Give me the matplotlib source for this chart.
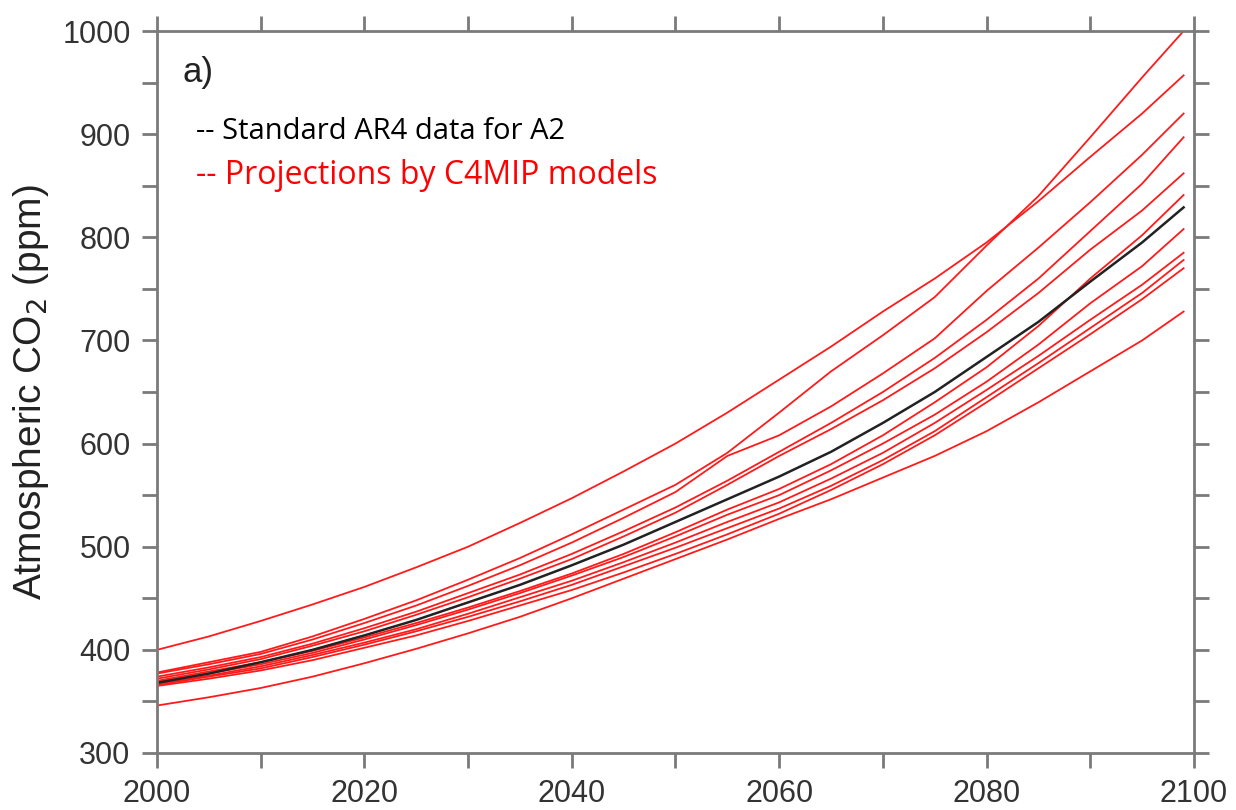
import matplotlib.pyplot as plt
from matplotlib.ticker import MultipleLocator

years = [2000, 2005, 2010, 2015, 2020, 2025, 2030, 2035, 2040, 2045, 2050,
         2055, 2060, 2065, 2070, 2075, 2080, 2085, 2090, 2095, 2099]

# standard AR4 SRES A2 concentrations
ar4_a2 = [368, 377, 388, 400, 414, 429, 446, 463, 482, 502, 524,
          546, 568, 592, 620, 650, 684, 718, 757, 795, 829]

# C4MIP coupled carbon cycle model projections
c4mip_1 = [400, 413, 428, 444, 461, 480, 500, 523, 547, 573, 600,
           630, 662, 694, 728, 760, 795, 835, 878, 920, 957]
c4mip_2 = [378, 388, 398, 413, 430, 448, 468, 489, 512, 536, 560,
           591, 630, 670, 705, 742, 792, 840, 897, 955, 1000]
c4mip_3 = [377, 386, 396, 410, 426, 443, 462, 482, 504, 528, 553,
           588, 608, 636, 668, 702, 748, 790, 834, 880, 920]
c4mip_4 = [374, 383, 393, 406, 421, 437, 455, 473, 493, 515, 538,
           564, 592, 620, 650, 683, 720, 760, 806, 852, 897]
c4mip_5 = [372, 381, 391, 404, 418, 434, 451, 469, 488, 510, 533,
           560, 588, 614, 642, 673, 708, 746, 788, 826, 862]
c4mip_6 = [370, 379, 388, 399, 412, 426, 441, 457, 474, 493, 514,
           536, 556, 580, 608, 640, 674, 714, 760, 802, 841]
c4mip_7 = [369, 377, 386, 397, 410, 424, 439, 455, 472, 490, 510,
           531, 550, 574, 600, 628, 660, 696, 736, 772, 808]
c4mip_8 = [367, 375, 384, 395, 407, 420, 435, 451, 467, 485, 504,
           524, 543, 566, 591, 620, 652, 685, 720, 754, 785]
c4mip_9 = [366, 374, 382, 393, 405, 418, 432, 447, 463, 481, 499,
           518, 537, 559, 584, 612, 645, 678, 712, 746, 778]
c4mip_10 = [365, 372, 380, 390, 402, 414, 428, 443, 458, 475, 493,
            512, 532, 555, 580, 608, 640, 673, 706, 740, 770]
c4mip_11 = [346, 354, 363, 374, 387, 401, 416, 432, 450, 469, 488,
            507, 527, 546, 567, 588, 612, 640, 670, 700, 728]

models = [c4mip_1, c4mip_2, c4mip_3, c4mip_4, c4mip_5, c4mip_6,
          c4mip_7, c4mip_8, c4mip_9, c4mip_10, c4mip_11]

plt.rcParams["font.family"] = ["Liberation Sans", "DejaVu Sans"]

fig = plt.figure(figsize=(12.36, 8.10), dpi=100)
ax = fig.add_axes([0.127, 0.0704, 0.839, 0.8913])

for m in models:
    ax.plot(years, m, color="#ff1a1a", lw=1.3)
ax.plot(years, ar4_a2, color="#222222", lw=1.8)

ax.set_xlim(2000, 2100)
ax.set_ylim(300, 1000)
ax.xaxis.set_major_locator(MultipleLocator(20))
ax.xaxis.set_minor_locator(MultipleLocator(10))
ax.yaxis.set_major_locator(MultipleLocator(100))
ax.yaxis.set_minor_locator(MultipleLocator(50))

grey = "#7a7a7a"
for s in ax.spines.values():
    s.set_color(grey)
    s.set_linewidth(2)
ax.tick_params(which="both", direction="out", length=11, width=2, color=grey,
               top=True, right=True, labelsize=22, labelcolor="#333333", pad=8)

ax.set_ylabel("Atmospheric CO$_2$ (ppm)", fontsize=28, color="#222222", labelpad=8)

ax.text(0.025, 0.943, "a)", transform=ax.transAxes, fontsize=25,
        color="#222222", va="center")
ax.text(0.038, 0.861, "-- Standard AR4 data for A2", transform=ax.transAxes,
        fontsize=21, family="Open Sans", color="black", va="center")
ax.text(0.038, 0.800, "-- Projections by C4MIP models", transform=ax.transAxes,
        fontsize=23, family="Open Sans", color="red", va="center")

fig.savefig("out.png", dpi=100)
